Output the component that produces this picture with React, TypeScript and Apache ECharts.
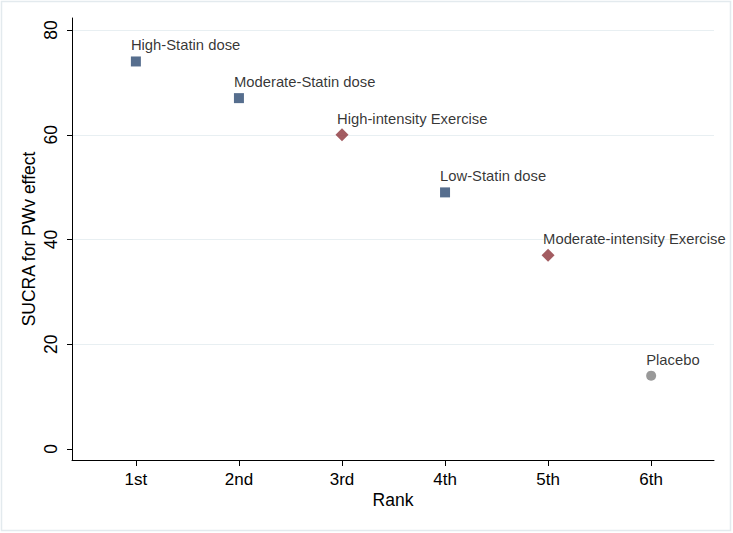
import React, { useEffect, useRef } from "react";
import * as echarts from "echarts";

const rankLabels = ["1st", "2nd", "3rd", "4th", "5th", "6th"];
const yTicks = [0, 20, 40, 60, 80];
const gridValues = [20, 40, 60, 80];

const statinNames = ["High-Statin dose", "Moderate-Statin dose", "Low-Statin dose"];
const statinRanks = [1, 2, 4];
const statinValues = [74, 67, 49];

const exerciseNames = ["High-intensity Exercise", "Moderate-intensity Exercise"];
const exerciseRanks = [3, 5];
const exerciseValues = [60, 37];

const placeboNames = ["Placebo"];
const placeboRanks = [6];
const placeboValues = [14];

const FONT = "Liberation Sans, Arial, Helvetica, sans-serif";

function mk(names: string[], ranks: number[], values: number[]) {
  return names.map((n, i) => ({ name: n, value: [ranks[i], values[i]] }));
}

const pointLabel = {
  show: true,
  formatter: (p: any) => p.name,
  position: ["50%", "50%"],
  offset: [-5, -16],
  align: "left",
  verticalAlign: "middle",
  color: "#000",
  fontFamily: FONT,
  fontSize: 14.8,
};

export default function App() {
  const ref = useRef<HTMLDivElement>(null);
  useEffect(() => {
    if (!ref.current) return;
    const chart = echarts.init(ref.current, undefined, { renderer: "svg" });
    chart.setOption({
      animation: false,
      backgroundColor: "#fff",
      graphic: [
        {
          type: "rect",
          shape: { x: 1.5, y: 1.5, width: 729, height: 529 },
          style: { fill: "none", stroke: "#e3eaee", lineWidth: 1.5 },
          silent: true,
          z: -1,
        },
      ],
      grid: { left: 72, right: 19, top: 18, bottom: 73, containLabel: false },
      xAxis: {
        type: "value",
        min: 0.38,
        max: 6.61,
        name: "Rank",
        nameLocation: "middle",
        nameGap: 31,
        nameMoveOverlap: false,
        nameTextStyle: { color: "#000", fontFamily: FONT, fontSize: 17.5 },
        axisLine: { show: true, onZero: false, lineStyle: { color: "#000", width: 1 } },
        axisTick: { show: true, length: 6, customValues: [1, 2, 3, 4, 5, 6], lineStyle: { color: "#000" } },
        axisLabel: {
          customValues: [1, 2, 3, 4, 5, 6],
          formatter: (v: number) => rankLabels[Math.round(v) - 1] ?? "",
          color: "#000",
          fontFamily: FONT,
          fontSize: 17,
          margin: 11,
        },
        splitLine: { show: false },
      },
      yAxis: {
        type: "value",
        min: -2.1,
        max: 82.3,
        name: "SUCRA for PWv effect",
        nameLocation: "middle",
        nameGap: 34,
        nameMoveOverlap: false,
        nameRotate: 90,
        nameTextStyle: { color: "#000", fontFamily: FONT, fontSize: 17.5 },
        axisLine: { show: true, onZero: false, lineStyle: { color: "#000", width: 1 } },
        axisTick: { show: true, length: 5, customValues: yTicks, lineStyle: { color: "#000" } },
        axisLabel: {
          customValues: yTicks,
          rotate: 90,
          color: "#000",
          fontFamily: FONT,
          fontSize: 17.5,
          margin: 12,
        },
        splitLine: { show: false },
      },
      series: [
        {
          type: "scatter",
          data: mk(statinNames, statinRanks, statinValues),
          symbol: "rect",
          symbolSize: 10,
          itemStyle: { color: "#2c4a72" },
          label: pointLabel,
          markLine: {
            silent: true,
            symbol: "none",
            label: { show: false },
            lineStyle: { color: "#e8eff2", type: "solid", width: 1.2 },
            data: gridValues.map((v) => ({ yAxis: v })),
            z: 0,
          },
          z: 3,
        },
        {
          type: "scatter",
          data: mk(exerciseNames, exerciseRanks, exerciseValues),
          symbol: "diamond",
          symbolSize: 13,
          itemStyle: { color: "#8c3339" },
          label: pointLabel,
          z: 3,
        },
        {
          type: "scatter",
          data: mk(placeboNames, placeboRanks, placeboValues),
          symbol: "circle",
          symbolSize: 10,
          itemStyle: { color: "#808080" },
          label: pointLabel,
          z: 3,
        },
      ],
    });
    return () => chart.dispose();
  }, []);
  return (
    <div
      ref={ref}
      style={{ position: "fixed", left: 0, top: 0, width: 733, height: 533 }}
    />
  );
}
